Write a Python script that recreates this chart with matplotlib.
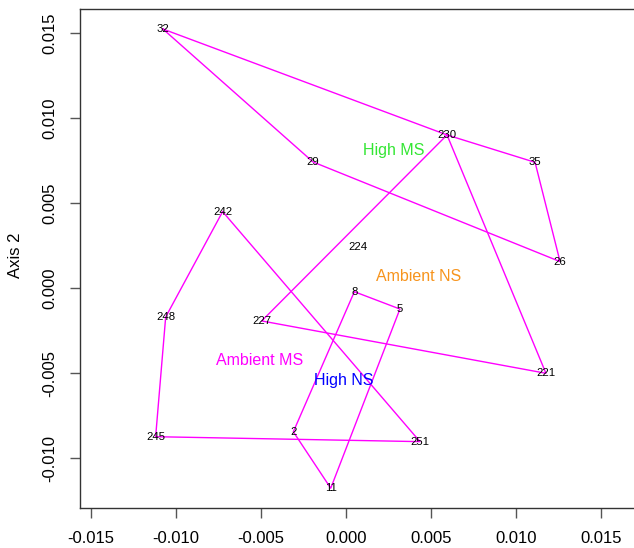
import matplotlib
matplotlib.use("Agg")
import matplotlib.pyplot as plt

plt.rcParams['font.family'] = ['Liberation Sans', 'DejaVu Sans']

# site scores (Axis 1, Axis 2)
site_ids = ["32", "29", "230", "35", "26", "224", "242", "248", "227",
            "245", "2", "8", "5", "221", "251", "11"]
axis1 = [-0.01075, -0.00192, 0.00596, 0.01114, 0.01261, 0.00074, -0.00724, -0.01059,
         -0.00494, -0.01118, -0.00308, 0.00051, 0.00319, 0.01178, 0.00437, -0.00088]
axis2 = [0.01525, 0.00743, 0.00902, 0.00741, 0.00157, 0.00245, 0.00451, -0.00169,
         -0.00192, -0.00873, -0.00844, -0.00020, -0.00122, -0.00500, -0.00902, -0.01176]

# outlines drawn between sites (closed polygons)
outlines = [
    ["32", "230", "35", "26", "29"],
    ["230", "227", "221"],
    ["242", "248", "245", "251"],
    ["8", "5", "11", "2"],
]

# group labels
group_names = ["High MS", "Ambient NS", "Ambient MS", "High NS"]
group_x = [0.00284, 0.00427, -0.00508, -0.00014]
group_y = [0.00810, 0.00068, -0.00422, -0.00545]
group_colors = ["#33e633", "#f7941d", "#ff00ff", "#0000ff"]

xticks = [-0.015, -0.010, -0.005, 0.000, 0.005, 0.010, 0.015]
yticks = [-0.010, -0.005, 0.000, 0.005, 0.010, 0.015]

W, H = 634, 548
fig = plt.figure(figsize=(W / 100, H / 100), dpi=100)
ax = fig.add_axes([80 / W, (H - 508) / H, (W - 80) / W, (508 - 9) / H])

pos = {s: (x, y) for s, x, y in zip(site_ids, axis1, axis2)}
for poly in outlines:
    xs = [pos[s][0] for s in poly] + [pos[poly[0]][0]]
    ys = [pos[s][1] for s in poly] + [pos[poly[0]][1]]
    ax.plot(xs, ys, color="#ff00ff", lw=1.0, zorder=2)

for s, x, y in zip(site_ids, axis1, axis2):
    ax.text(x, y, s, ha="center", va="center", fontsize=8.2, color="black", zorder=3)

for name, x, y, c in zip(group_names, group_x, group_y, group_colors):
    ax.text(x, y, name, ha="center", va="center", fontsize=11.5, color=c, zorder=3)

ax.set_xlim(-0.01563, 0.01696)
ax.set_ylim(-0.012924, 0.016429)
ax.set_xticks(xticks)
ax.set_yticks(yticks)
ax.set_xticklabels([f"{v:.3f}" for v in xticks])
ax.set_yticklabels([f"{v:.3f}" for v in yticks])
ax.tick_params(axis="both", direction="out", length=7.5, width=1.0, color="#555555",
               labelsize=12, pad=9)
ax.tick_params(axis="y", labelrotation=90)
for lbl in ax.get_yticklabels():
    lbl.set_verticalalignment("center")
ax.spines["right"].set_visible(False)
for sp in ["left", "bottom", "top"]:
    ax.spines[sp].set_color("#333333")
    ax.spines[sp].set_linewidth(1.0)

fig.text(15 / W, 1 - 255 / H, "Axis 2", rotation=90, ha="center", va="center", fontsize=12)

fig.savefig("out.png", dpi=100)
